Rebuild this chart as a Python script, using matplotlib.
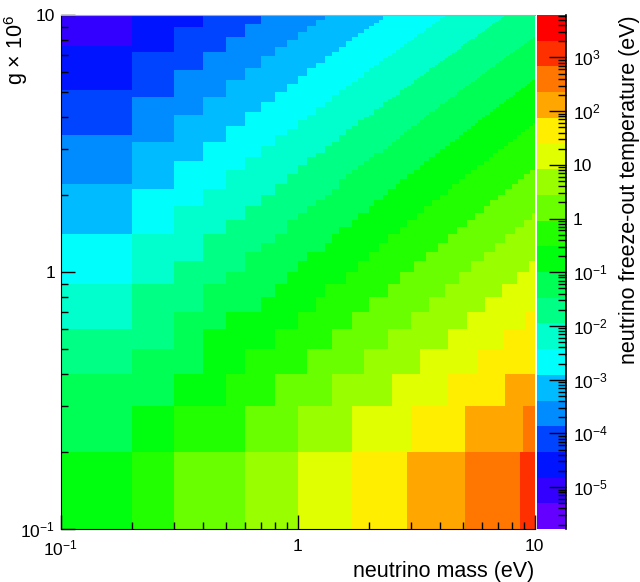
import numpy as np
import matplotlib
matplotlib.use("Agg")
import matplotlib.pyplot as plt
from matplotlib.colors import ListedColormap, LogNorm
from matplotlib.ticker import FixedLocator, NullFormatter
import colorsys

# ---------------- data ----------------
# histogram binning (linear bins of 0.1 on both axes)
mass_edges = np.round(np.arange(0.1, 10.0001, 0.1), 2)        # neutrino mass (eV)
coupling_edges = np.round(np.arange(0.1, 10.0001, 0.1), 2)    # g x 1e6

# colour scale of the z axis (log10 of freeze-out temperature in eV)
z_log_min = -5.78
z_log_max = 3.79
n_levels = 20

# positions where the colour changes (contour crossings), read along the borders
# level index k = boundary counted from the top of the palette
row_g015_mass = [0.2, 0.3, 0.5, 1.0, 1.7, 2.9, 5.0, 8.85]
row_g015_level = [9, 8, 7, 6, 5, 4, 3, 2]
row_g025_mass = [0.2, 0.3, 0.5, 1.0, 1.7, 3.0, 5.15, 8.95]
row_g025_level = [10, 9, 8, 7, 6, 5, 4, 3]
col_m015_coupling = [0.2, 0.4, 0.6, 0.9, 1.4, 2.2, 3.3, 5.1, 7.6]
col_m015_level = [10, 11, 12, 13, 14, 15, 16, 17, 18]
row_g995_mass = [0.2, 0.4, 0.8, 1.4, 2.4, 4.1, 7.2]
row_g995_level = [18, 17, 16, 15, 14, 13, 12]

x_tick_vals = [0.1, 1, 10]
x_tick_labels = [r"$10^{-1}$", "1", "10"]
y_tick_vals = [0.1, 1, 10]
y_tick_labels = [r"$10^{-1}$", "1", "10"]
z_tick_vals = [1e-5, 1e-4, 1e-3, 1e-2, 1e-1, 1, 10, 1e2, 1e3]
z_tick_labels = [r"$10^{-5}$", r"$10^{-4}$", r"$10^{-3}$", r"$10^{-2}$", r"$10^{-1}$",
                 "1", "10", r"$10^{2}$", r"$10^{3}$"]

x_title = "neutrino mass (eV)"
y_title = r"g $\times$ 10$^{6}$"
z_title = "neutrino freeze-out temperature (eV)"

# ---------------- build the surface from the crossings ----------------
band = (z_log_max - z_log_min) / n_levels
pm, pg, pl = [], [], []
for m, k in zip(row_g015_mass, row_g015_level):
    pm.append(m); pg.append(0.15); pl.append(k)
for m, k in zip(row_g025_mass, row_g025_level):
    pm.append(m); pg.append(0.25); pl.append(k)
for g, k in zip(col_m015_coupling, col_m015_level):
    pm.append(0.15); pg.append(g); pl.append(k)
for m, k in zip(row_g995_mass, row_g995_level):
    pm.append(m); pg.append(9.95); pl.append(k)
pu = np.log10(pm); pv = np.log10(pg)
pz = z_log_max - band * np.array(pl, dtype=float)


def feats(u, v):
    return np.stack([np.ones_like(u), u, v, u * u, v * v, u * v], axis=-1)


coef, *_ = np.linalg.lstsq(feats(pu, pv), pz, rcond=None)

mc = 0.5 * (mass_edges[:-1] + mass_edges[1:])
gc = 0.5 * (coupling_edges[:-1] + coupling_edges[1:])
U, V = np.meshgrid(np.log10(mc), np.log10(gc))
temperature = 10 ** (feats(U, V) @ coef)

# ---------------- ROOT "pretty" palette, 20 contour levels ----------------
cols = []
for j in range(n_levels):
    i = int((j + 0.99) * 50 / n_levels)
    hue = 280.0 - (i + 1) * 5.6
    cols.append(colorsys.hls_to_rgb(hue / 360.0, 0.5, 1.0))
cmap = ListedColormap(cols)
norm = LogNorm(vmin=10 ** z_log_min, vmax=10 ** z_log_max)

# ---------------- figure ----------------
plt.rcParams["font.family"] = ["Liberation Sans", "DejaVu Sans"]
plt.rcParams["mathtext.fontset"] = "custom"
plt.rcParams["mathtext.rm"] = "Liberation Sans"
plt.rcParams["mathtext.it"] = "Liberation Sans:italic"
plt.rcParams["mathtext.default"] = "regular"

fig = plt.figure(figsize=(6.4, 5.82), dpi=100)
W, H = 640.0, 582.0
x0, x1, ytop, ybot = 60.7, 534.5, 15.0, 529.0
ax = fig.add_axes([x0 / W, 1 - ybot / H, (x1 - x0) / W, (ybot - ytop) / H])
mesh = ax.pcolormesh(mass_edges, coupling_edges, temperature, cmap=cmap, norm=norm,
                     shading="flat", linewidth=0, antialiased=False)
ax.set_xscale("log")
ax.set_yscale("log")
ax.set_xlim(mass_edges[0], mass_edges[-1])
ax.set_ylim(coupling_edges[0], coupling_edges[-1])

ax.xaxis.set_major_locator(FixedLocator(x_tick_vals))
ax.set_xticklabels(x_tick_labels)
ax.yaxis.set_major_locator(FixedLocator(y_tick_vals))
ax.set_yticklabels(y_tick_labels)
minors = [d * s for d in (0.1, 1) for s in range(2, 10)]
ax.xaxis.set_minor_locator(FixedLocator(minors))
ax.yaxis.set_minor_locator(FixedLocator(minors))
ax.xaxis.set_minor_formatter(NullFormatter())
ax.yaxis.set_minor_formatter(NullFormatter())
ax.tick_params(which="both", direction="in", top=False, right=False, labelsize=12.5, width=1)
ax.tick_params(which="major", length=10)
ax.tick_params(which="minor", length=5)
ax.tick_params(axis="x", which="major", pad=7)
ax.tick_params(axis="y", which="major", pad=4)
ax.spines["top"].set_color("#aaaaaa")
ax.spines["top"].set_linewidth(0.8)
ax.spines["right"].set_visible(False)
ax.set_xlabel(x_title, loc="right", fontsize=15.5, labelpad=2)
ax.set_ylabel(y_title, loc="top", fontsize=15.5)
ax.yaxis.set_label_coords(-0.064, 1.0)

cx0, cx1 = 536.7, 565.7
cax = fig.add_axes([cx0 / W, 1 - ybot / H, (cx1 - cx0) / W, (ybot - ytop) / H])
cb = fig.colorbar(mesh, cax=cax)
cb.outline.set_visible(False)
cax.plot([1, 1], [0, 1], transform=cax.transAxes, color="k", lw=1.2, clip_on=False)
cax.yaxis.set_major_locator(FixedLocator(z_tick_vals))
cax.set_yticklabels(z_tick_labels)
zmin_dec = []
for e in range(-6, 4):
    for s in range(2, 10):
        v = s * 10.0 ** e
        if 10 ** z_log_min <= v <= 10 ** z_log_max:
            zmin_dec.append(v)
cax.yaxis.set_minor_locator(FixedLocator(zmin_dec))
cax.yaxis.set_minor_formatter(NullFormatter())
cax.tick_params(which="both", direction="in", labelsize=12.5, width=1)
cax.tick_params(which="major", length=12, pad=5)
cax.tick_params(which="minor", length=6)
cb.set_label(z_title, loc="top", fontsize=15.5, labelpad=8)

fig.savefig("out.png", dpi=100)
